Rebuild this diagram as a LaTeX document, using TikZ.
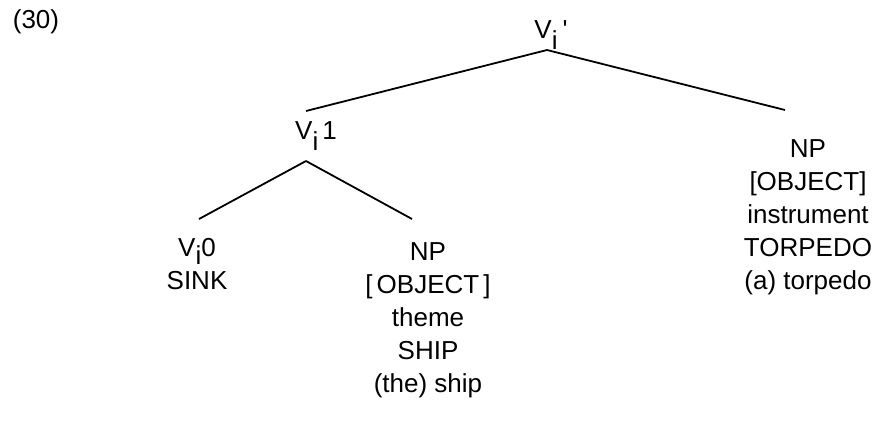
\documentclass[tikz,border=0pt]{standalone}
\usepackage{fontspec}
\setmainfont{Liberation Sans}
% lowered index letter on a category label
\newcommand{\idx}[2][0.42em]{\raisebox{-#1}{#2}}
\begin{document}
\begin{tikzpicture}[x=1pt, y=-1pt, line width=1.8pt,
    every node/.style={font=\fontsize{26}{33}\selectfont, inner sep=0pt}]
    \tikzstyle{cat} = [align=center]
    \useasboundingbox (0,0) rectangle (877,426);

    % example number
    \node (num) at (36,22) {(30)};

    % categories
    \node [cat] (root) at (551,35) {V\idx{i}\hspace{5pt}\textquotesingle};
    \node [cat] (vi1) at (316,136) {V\idx{i}\hspace{4pt}1};
    \node [cat] (vi0) at (197,264) {V\idx[0.3em]{i}0\\SINK};
    \node [cat] (npm) at (428,320) {NP\\{[}\hspace{4pt}OBJECT\hspace{4pt}{]}\\theme\\SHIP\\(the) ship};
    \node [cat] (npr) at (808,217) {NP\\{[}OBJECT{]}\\instrument\\TORPEDO\\(a) torpedo};

    % branches
    \draw ([shift={(-4,15)}]root.center) -- ([shift={(-10,-25)}]vi1.center);
    \draw ([shift={(-4,15)}]root.center) -- ([shift={(-23,-107)}]npr.center);
    \draw ([shift={(-10,25)}]vi1.center) -- ([shift={(2,-45)}]vi0.center);
    \draw ([shift={(-10,25)}]vi1.center) -- ([shift={(-16,-101)}]npm.center);
\end{tikzpicture}
\end{document}
